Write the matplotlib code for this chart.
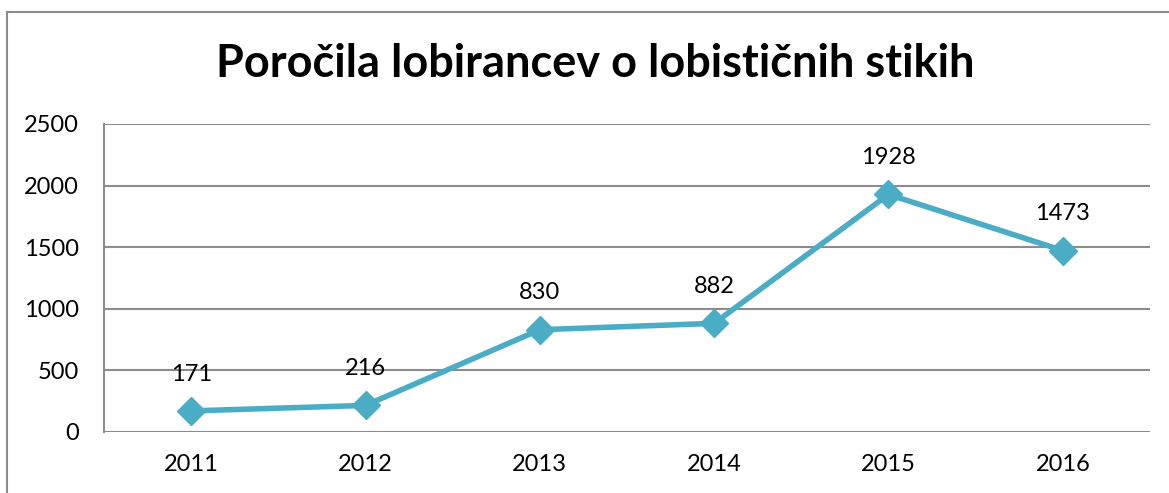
import numpy as np
import matplotlib.pyplot as plt
from matplotlib.lines import Line2D

years = ['2011', '2012', '2013', '2014', '2015', '2016']
reports = [171, 216, 830, 882, 1928, 1473]

plt.rcParams['font.family'] = ['Lato', 'DejaVu Sans']

fig = plt.figure(figsize=(11.69, 4.93), dpi=100)
ax = fig.add_axes([104/1169, 1 - 432/493, (1150-104)/1169, (432-124)/493])

x = np.arange(len(years))
ax.plot(x, reports, color='#4BACC6', lw=4, marker='D', ms=14, zorder=3)

for xi, v in zip(x, reports):
    ax.annotate(str(v), (xi, v), xytext=(0, 19), textcoords='offset points',
                ha='center', va='bottom', fontsize=17)

ax.set_xlim(-0.5, len(years) - 0.5)
ax.set_ylim(0, 2500)
ax.set_yticks(range(0, 2501, 500))
ax.set_xticks(x)
ax.set_xticklabels(years)
ax.tick_params(axis='both', length=0, labelsize=17, colors='black')
ax.tick_params(axis='y', pad=18)
ax.tick_params(axis='x', pad=16)
ax.grid(axis='y', color='#8c8c8c', lw=1.5)
ax.set_axisbelow(True)
for s in ['top', 'right', 'bottom']:
    ax.spines[s].set_visible(False)
ax.spines['left'].set_color('#8c8c8c')
ax.spines['left'].set_linewidth(1.5)

fig.text(0.509, 1 - 64/493, 'Poročila lobirancev o lobističnih stikih',
         ha='center', va='center', fontsize=32.5, fontweight='bold')

# chart frame
fig.add_artist(Line2D([7/1169, 7/1169], [0, 1 - 12/493], color='#8c8c8c', lw=1.5))
fig.add_artist(Line2D([7/1169, 1], [1 - 12/493, 1 - 12/493], color='#8c8c8c', lw=1.5))

fig.savefig('out.png')
